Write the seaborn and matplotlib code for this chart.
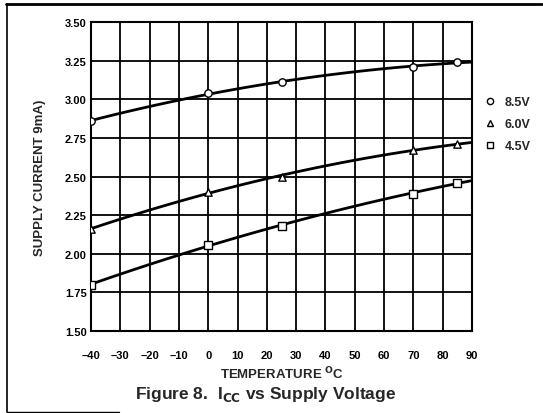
import numpy as np
import pandas as pd
import matplotlib
matplotlib.use("Agg")
import matplotlib.pyplot as plt
import seaborn as sns
from matplotlib.lines import Line2D

temps = [-40, 0, 25, 70, 85]
icc_85 = [2.86, 3.04, 3.11, 3.21, 3.24]
icc_60 = [2.16, 2.40, 2.50, 2.67, 2.71]
icc_45 = [1.80, 2.06, 2.18, 2.39, 2.46]
series_labels = ["8.5V", "6.0V", "4.5V"]
series_markers = ["o", "^", "s"]
x_ticks = list(range(-40, 91, 10))
y_ticks = [1.50, 1.75, 2.00, 2.25, 2.50, 2.75, 3.00, 3.25, 3.50]

sns.set_style("white")
plt.rcParams['font.family'] = ['Liberation Sans', 'DejaVu Sans']
plt.rcParams['font.weight'] = 'bold'

df = pd.DataFrame({
    "temp": temps * 3,
    "icc": icc_85 + icc_60 + icc_45,
    "series": [series_labels[0]] * 5 + [series_labels[1]] * 5 + [series_labels[2]] * 5,
})

fig = plt.figure(figsize=(5.43, 4.14), dpi=100)
ax = fig.add_axes([0.1676, 0.198, 0.7017, 0.7464])
ax.set_xlim(-40, 90)
ax.set_ylim(1.5, 3.5)

for lab, mk in zip(series_labels, series_markers):
    sub = df[df["series"] == lab]
    sns.regplot(data=sub, x="temp", y="icc", order=2, ci=None, scatter=False,
                truncate=False, color="black", line_kws={"lw": 2.0, "zorder": 4}, ax=ax)
    sns.scatterplot(data=sub, x="temp", y="icc", marker=mk, s=28, color="white",
                    edgecolor="black", linewidth=1.0, zorder=5, ax=ax, legend=False)

ax.set_xlim(-40, 90)
ax.set_ylim(1.5, 3.5)
ax.set_xticks(x_ticks)
ax.set_xticklabels([("\u2013%d" % -t) if t < 0 else str(t) for t in x_ticks])
ax.set_yticks(y_ticks)
ax.set_yticklabels(["%.2f" % v for v in y_ticks])
ax.set_xticks(np.arange(-40, 91, 5), minor=True)
ax.set_yticks(np.arange(1.5, 3.51, 0.125), minor=True)
ax.grid(True, which="major", color="black", lw=1.3)
for s in ax.spines.values():
    s.set_color("black")
    s.set_linewidth(1.5)
ax.tick_params(axis="both", which="major", labelsize=8, length=4, width=1.2,
               direction="in", colors="black")
ax.tick_params(axis="x", which="major", pad=14)
ax.tick_params(axis="y", which="major", pad=3)
ax.tick_params(axis="both", which="minor", length=2.5, width=1.0, direction="in")
for t in ax.get_xticklabels() + ax.get_yticklabels():
    t.set_fontweight("bold")

ax.set_xlabel("TEMPERATURE $^{\\mathbf{O}}$C", fontsize=9.5, fontweight="bold", labelpad=3)
ax.set_ylabel("SUPPLY CURRENT 9mA)", fontsize=9.5, fontweight="bold", labelpad=14)

handles = [Line2D([], [], marker=m, ls="none", markersize=4.5, markerfacecolor="white",
                  markeredgecolor="black", markeredgewidth=1.0) for m in series_markers]
leg = fig.legend(handles, series_labels, loc="upper left", bbox_to_anchor=(0.87, 0.792),
                 frameon=False, handletextpad=0.7, labelspacing=0.8,
                 handlelength=1.0, prop={"weight": "bold", "size": 9})

fig.text(0.49, 0.046, "Figure 8.  I$_{\\mathbf{CC}}$ vs Supply Voltage", ha="center", va="center",
         fontsize=12.5, fontweight="bold")

fig.add_artist(Line2D([0.011, 0.998], [0.987, 0.987], transform=fig.transFigure, color="black", lw=2))
fig.add_artist(Line2D([0.013, 0.013], [0.987, 0.003], transform=fig.transFigure, color="black", lw=1.2))
fig.add_artist(Line2D([0.013, 0.22], [0.003, 0.003], transform=fig.transFigure, color="black", lw=1.0))

fig.savefig("out.png", dpi=100)
